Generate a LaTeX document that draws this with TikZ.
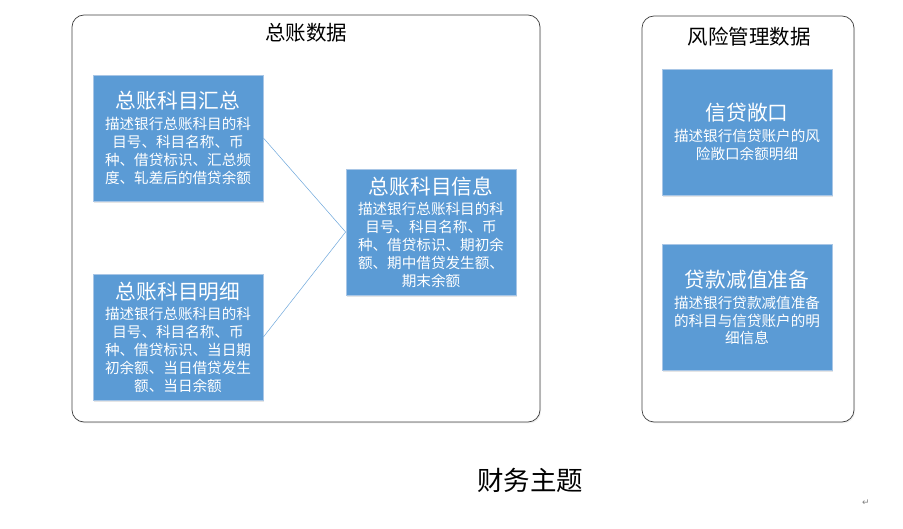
\documentclass[tikz,border=0pt]{standalone}
\usepackage{fontspec}
\newfontfamily\cjk{Noto Sans CJK SC}
\newfontfamily\symfont{DejaVu Sans}
\usetikzlibrary{shadows}

\definecolor{boxblue}{HTML}{5B9BD5}
\definecolor{boxedge}{HTML}{A8C6E6}
\definecolor{linkblue}{HTML}{6FA8DC}

\newcommand{\boxtitle}[1]{{\fontsize{20.7}{22}\selectfont #1}\\[3pt]}

\begin{document}
\begin{tikzpicture}[x=1pt, y=-1pt,
    group/.style={draw=black!75, line width=0.7pt, rounded corners=12pt, fill=white,
        drop shadow={opacity=0.12, shadow xshift=1pt, shadow yshift=-1.5pt}},
    grouptitle/.style={font=\cjk\fontsize{20.5}{22}\selectfont},
    subject/.style={rectangle, draw=boxedge, line width=0.8pt, fill=boxblue, text=white,
        minimum width=170pt, minimum height=126pt, align=center, inner sep=2pt,
        font=\cjk\fontsize{14.6}{17.8}\selectfont,
        drop shadow={opacity=0.2, shadow xshift=1pt, shadow yshift=-2pt}},
    link/.style={draw=linkblue, line width=0.5pt}]
    \useasboundingbox (0,0) rectangle (903,529);

    % --- 总账数据 (links) ---
    \node[group, minimum width=468pt, minimum height=407pt] (zongzhang) at (306,218.5) {};
    \node[grouptitle] (zztitle) at (306,33) {总账数据};

    \node[subject] (huizong) at (178,138) {\boxtitle{总账科目汇总}
        描述银行总账科目的科\\目号、科目名称、币\\种、借贷标识、汇总频\\度、轧差后的借贷余额};
    \node[subject] (mingxi) at (178,337) {\boxtitle{总账科目明细}
        描述银行总账科目的科\\目号、科目名称、币\\种、借贷标识、当日期\\初余额、当日借贷发生\\额、当日余额};
    \node[subject] (xinxi) at (431,232) {\boxtitle{总账科目信息}
        描述银行总账科目的科\\目号、科目名称、币\\种、借贷标识、期初余\\额、期中借贷发生额、\\期末余额};

    % verbindingen
    \foreach \src in {huizong, mingxi} {
        \draw[link] (\src.east) -- (xinxi.west);
    }

    % --- 风险管理数据 (rechts) ---
    \node[group, minimum width=212pt, minimum height=406pt] (fengxian) at (748,219) {};
    \node[grouptitle] (fxtitle) at (749,37) {风险管理数据};

    \node[subject] (changkou) at (747,132) {\boxtitle{信贷敞口}
        描述银行信贷账户的风\\险敞口余额明细};
    \node[subject] (jianzhi) at (747,307.5) {\boxtitle{贷款减值准备}
        描述银行贷款减值准备\\的科目与信贷账户的明\\细信息};

    % onderschrift
    \node[font=\cjk\fontsize{26.5}{28}\selectfont] (caption) at (530,480) {财务主题};
    \node[font=\symfont\fontsize{9}{10}\selectfont, text=black!50] (retmark) at (866,503) {↵};
\end{tikzpicture}
\end{document}
